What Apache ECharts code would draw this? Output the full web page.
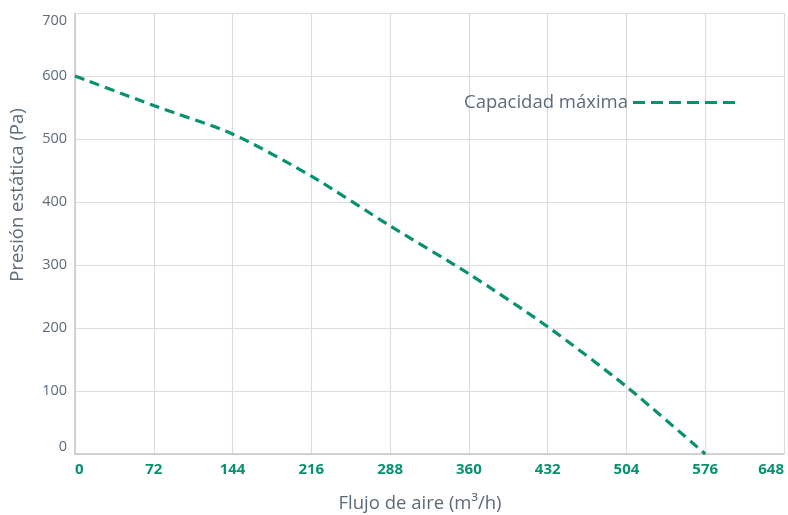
<!DOCTYPE html>
<html>
<head>
<meta charset="utf-8">
<script src="https://cdn.jsdelivr.net/npm/echarts@6/dist/echarts.min.js"></script>
<style>html,body{margin:0;padding:0;background:#fff;}#c{width:788px;height:515px;}</style>
</head>
<body>
<div id="c"></div>
<script>
const flow = [0, 72, 144, 216, 288, 360, 432, 504, 576];
const pressure = [600, 553, 508, 441, 362, 286, 202, 107, 0];
const seriesName = 'Capacidad máxima';
const xName = 'Flujo de aire (m³/h)';
const yName = 'Presión estática (Pa)';

const green = '#089170';
const grey = '#5b6b7b';
const chart = echarts.init(document.getElementById('c'));
chart.setOption({
  animation: false,
  textStyle: { fontFamily: 'Open Sans' },
  grid: { left: 75, right: 4, top: 13, bottom: 61, outerBoundsMode: 'none', containLabel: false },
  legend: {
    left: 459, top: 88, align: 'right',
    itemWidth: 102, itemHeight: 3,
    icon: 'path://M0,0h12v3h-12z M18,0h12v3h-12z M36,0h12v3h-12z M54,0h12v3h-12z M72,0h12v3h-12z M90,0h12v3h-12z',
    itemStyle: { color: green },
    textStyle: { color: grey, fontSize: 18.5, fontFamily: 'Open Sans' },
    data: [{ name: seriesName }]
  },
  xAxis: {
    type: 'value', min: 0, max: 648, interval: 72,
    axisLine: { lineStyle: { color: '#c8c8c8', width: 1.5 } },
    axisTick: { show: false },
    axisLabel: { color: green, fontWeight: 'bold', fontSize: 15, margin: 8, alignMinLabel: 'left', alignMaxLabel: 'right' },
    splitLine: { lineStyle: { color: '#dcdcdc', width: 1.2 } }
  },
  yAxis: {
    type: 'value', min: 0, max: 700, interval: 100,
    axisLine: { show: true, lineStyle: { color: '#c8c8c8', width: 1.5 } },
    axisTick: { show: false },
    axisLabel: { color: grey, fontSize: 14.5, margin: 8, verticalAlignMinLabel: 'bottom', verticalAlignMaxLabel: 'top' },
    splitLine: { lineStyle: { color: '#dcdcdc', width: 1.2 } }
  },
  graphic: [{
    type: 'text', x: 18, y: 195, rotation: Math.PI / 2,
    style: { text: yName, fill: grey, fontSize: 18.5, fontFamily: 'Open Sans', align: 'center', verticalAlign: 'middle' }
  }, {
    type: 'text', x: 420, y: 504,
    style: { text: xName, fill: grey, fontSize: 18.5, fontFamily: 'Open Sans', align: 'center', verticalAlign: 'middle' }
  }],
  series: [{
    name: seriesName, type: 'line', smooth: 0.25, symbol: 'none',
    data: flow.map((f, i) => [f, pressure[i]]),
    lineStyle: { color: green, width: 3.2, type: [10, 6] },
    itemStyle: { color: green }
  }]
});
</script>
</body>
</html>
